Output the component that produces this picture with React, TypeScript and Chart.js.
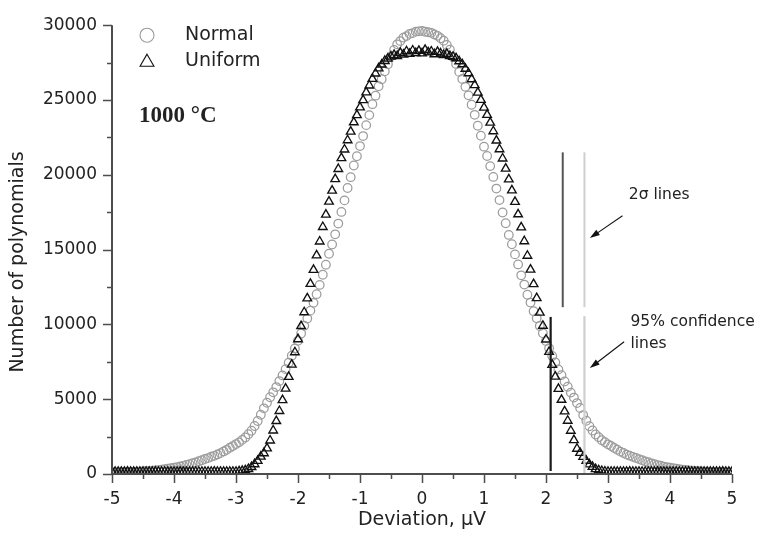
import React, { useEffect, useRef } from 'react';
import { Chart, registerables } from 'chart.js';

Chart.register(...registerables);

// x positions: X_START + i * X_STEP  (-5 ... 5)
const X_START = -5;
const X_STEP = 0.05;

const NORMAL = [
  100, 105, 110, 118, 120, 127, 130, 142, 150, 158,
  172, 184, 202, 218, 243, 262, 292, 318, 352, 383,
  425, 458, 505, 548, 605, 655, 725, 776, 855, 918,
  1005, 1065, 1155, 1215, 1310, 1395, 1510, 1615, 1760, 1865,
  2000, 2115, 2280, 2440, 2660, 2890, 3210, 3540, 3960, 4390,
  4760, 5130, 5460, 5810, 6210, 6590, 7010, 7440, 7910, 8390,
  8910, 9390, 9910, 10390, 10920, 11440, 12020, 12640, 13320, 13990,
  14720, 15340, 16020, 16740, 17520, 18290, 19120, 19840, 20620, 21240,
  21920, 22590, 23320, 23990, 24720, 25290, 25920, 26390, 26920, 27390,
  27920, 28340, 28720, 28940, 29170, 29270, 29420, 29470, 29570, 29590,
  29620, 29560, 29530, 29490, 29380, 29290, 29130, 28960, 28680, 28360,
  27880, 27410, 26880, 26410, 25880, 25310, 24680, 24010, 23280, 22610,
  21880, 21260, 20580, 19860, 19080, 18310, 17480, 16760, 15980, 15360,
  14680, 14010, 13280, 12660, 11980, 11460, 10880, 10410, 9890, 9410,
  8890, 8410, 7890, 7460, 6990, 6610, 6190, 5830, 5440, 5110,
  4740, 4410, 3940, 3560, 3190, 2910, 2640, 2460, 2260, 2125,
  1985, 1875, 1745, 1625, 1495, 1405, 1295, 1225, 1145, 1075,
  995, 925, 845, 785, 715, 665, 595, 555, 495, 462,
  415, 388, 348, 322, 288, 266, 238, 222, 198, 186,
  168, 161, 148, 141, 128, 126, 118, 116, 108, 106,
  100,
];

const UNIFORM = [
  150, 152, 148, 151, 149, 153, 150, 147, 152, 150,
  149, 151, 150, 148, 153, 150, 149, 152, 147, 151,
  150, 149, 153, 150, 148, 151, 150, 152, 149, 150,
  151, 148, 150, 153, 149, 150, 152, 148, 151, 150,
  152, 172, 205, 248, 335, 465, 655, 875, 1160, 1390,
  1710, 2240, 2910, 3540, 4210, 4940, 5710, 6490, 7310, 8140,
  9010, 9890, 10810, 11740, 12710, 13640, 14610, 15540, 16510, 17340,
  18210, 18940, 19710, 20390, 21110, 21690, 22310, 22890, 23510, 23990,
  24510, 24990, 25510, 25970, 26410, 26770, 27110, 27370, 27610, 27770,
  27910, 28020, 27930, 28150, 28040, 28260, 28090, 28310, 28140, 28280,
  28120, 28350, 28180, 28240, 28060, 28220, 28110, 28010, 28080, 27940,
  27890, 27790, 27590, 27390, 27090, 26790, 26390, 25990, 25490, 25010,
  24490, 24010, 23490, 22910, 22290, 21710, 21090, 20410, 19690, 18960,
  18190, 17360, 16490, 15560, 14590, 13660, 12690, 11760, 10790, 9910,
  8990, 8160, 7290, 6510, 5690, 4960, 4190, 3560, 2890, 2260,
  1690, 1410, 1140, 885, 645, 475, 325, 252, 202, 168,
  151, 149, 152, 148, 150, 151, 149, 153, 150, 148,
  150, 152, 149, 151, 150, 148, 153, 150, 149, 151,
  150, 148, 151, 152, 149, 150, 153, 149, 150, 151,
  148, 150, 152, 149, 151, 150, 148, 153, 150, 149,
  150,
];

const X_MIN = -5;
const X_MAX = 5;
const Y_MIN = 0;
const Y_MAX = 30000;

// 2-sigma lines (uniform, normal)
const SIGMA2_X = [2.27, 2.62];
const SIGMA2_Y = [11150, 21500];
// 95% confidence lines (uniform, normal)
const CONF95_X = [2.075, 2.62];
const CONF95_Y_TOP = [10500, 10550];
const CONF95_Y_BOTTOM = [200, 50];

// arrows [x0, y0, x1, y1] (tail -> head)
const ARROW_SIGMA = [3.234, 17266, 2.707, 15768];
const ARROW_CONF = [3.26, 8841, 2.707, 7079];

const LABEL_SIGMA = { text: '2σ lines', x: 3.336, y: 18671 };
const LABEL_CONF1 = { text: '95% confidence', x: 3.363, y: 10160 };
const LABEL_CONF2 = { text: 'lines', x: 3.363, y: 8663 };

const SERIES_NAMES = ['Normal', 'Uniform'];
const TEMP_LABEL = '1000 °C';
const X_TITLE = 'Deviation, μV';
const Y_TITLE = 'Number of polynomials';

const AXIS_COLOR = '#4d4d4d';
const TEXT_COLOR = '#222';

const toPoints = (arr: number[]) => arr.map((y, i) => ({ x: X_START + i * X_STEP, y }));

const decorPlugin = {
  id: 'decor',
  afterDatasetsDraw(chart: any) {
    const ctx = chart.ctx;
    const xs = chart.scales.x;
    const ys = chart.scales.y;
    const { left, right, top, bottom } = chart.chartArea;
    ctx.save();

    // axis lines
    ctx.strokeStyle = AXIS_COLOR;
    ctx.lineWidth = 2;
    ctx.beginPath();
    ctx.moveTo(left, top);
    ctx.lineTo(left, bottom);
    ctx.lineTo(right, bottom);
    ctx.stroke();

    // ticks
    ctx.lineWidth = 1.5;
    ctx.beginPath();
    for (let k = 0; k <= 20; k++) {
      const v = X_MIN + k * 0.5;
      const px = Math.round(xs.getPixelForValue(v)) + 0.5;
      const len = k % 2 === 0 ? 9 : 5;
      ctx.moveTo(px, bottom);
      ctx.lineTo(px, bottom + len);
    }
    for (let k = 0; k <= 12; k++) {
      const v = Y_MIN + k * 2500;
      const py = Math.round(ys.getPixelForValue(v)) + 0.5;
      const len = k % 2 === 0 ? 9 : 5;
      ctx.moveTo(left, py);
      ctx.lineTo(left - len, py);
    }
    ctx.stroke();

    // arrows
    const drawArrow = (a: number[]) => {
      const x0 = xs.getPixelForValue(a[0]);
      const y0 = ys.getPixelForValue(a[1]);
      const x1 = xs.getPixelForValue(a[2]);
      const y1 = ys.getPixelForValue(a[3]);
      const ang = Math.atan2(y1 - y0, x1 - x0);
      const hl = 10;
      const hw = 3.2;
      ctx.strokeStyle = '#111';
      ctx.fillStyle = '#111';
      ctx.lineWidth = 1.1;
      ctx.beginPath();
      ctx.moveTo(x0, y0);
      ctx.lineTo(x1 - Math.cos(ang) * hl * 0.8, y1 - Math.sin(ang) * hl * 0.8);
      ctx.stroke();
      const bx = x1 - Math.cos(ang) * hl;
      const by = y1 - Math.sin(ang) * hl;
      ctx.beginPath();
      ctx.moveTo(x1, y1);
      ctx.lineTo(bx + Math.sin(ang) * hw, by - Math.cos(ang) * hw);
      ctx.lineTo(bx - Math.sin(ang) * hw, by + Math.cos(ang) * hw);
      ctx.closePath();
      ctx.fill();
    };
    drawArrow(ARROW_SIGMA);
    drawArrow(ARROW_CONF);

    // annotation texts
    ctx.fillStyle = TEXT_COLOR;
    ctx.textBaseline = 'middle';
    ctx.textAlign = 'left';
    ctx.font = '15.5px "DejaVu Sans"';
    for (const l of [LABEL_SIGMA, LABEL_CONF1, LABEL_CONF2]) {
      ctx.fillText(l.text, xs.getPixelForValue(l.x), ys.getPixelForValue(l.y));
    }

    // legend
    const lx = left + 35;
    ctx.strokeStyle = '#9a9a9a';
    ctx.lineWidth = 1.1;
    ctx.beginPath();
    ctx.arc(lx, top + 10, 7, 0, Math.PI * 2);
    ctx.stroke();
    const ty = top + 37;
    const tr = 8;
    ctx.strokeStyle = '#111';
    ctx.beginPath();
    for (let k = 0; k < 3; k++) {
      const a = (k * 2 * Math.PI) / 3;
      const px = lx + Math.sin(a) * tr;
      const py = ty - Math.cos(a) * tr;
      if (k === 0) ctx.moveTo(px, py);
      else ctx.lineTo(px, py);
    }
    ctx.closePath();
    ctx.stroke();
    ctx.fillStyle = TEXT_COLOR;
    ctx.font = '19px "DejaVu Sans"';
    ctx.fillText(SERIES_NAMES[0], left + 73, top + 10);
    ctx.fillText(SERIES_NAMES[1], left + 73, top + 36);

    ctx.font = 'bold 23px "Liberation Serif"';
    ctx.fillText(TEMP_LABEL, left + 27, top + 91);

    // axis titles
    ctx.font = '19px "DejaVu Sans"';
    ctx.textAlign = 'center';
    ctx.fillText(X_TITLE, (left + right) / 2, 520);
    ctx.save();
    ctx.translate(18, 262);
    ctx.rotate(-Math.PI / 2);
    ctx.fillText(Y_TITLE, 0, 0);
    ctx.restore();

    ctx.restore();
  },
};

export default function App() {
  const ref = useRef<HTMLCanvasElement | null>(null);

  useEffect(() => {
    if (!ref.current) return;
    const lineDs = (x: number, y0: number, y1: number, color: string, w: number) => ({
      type: 'scatter' as const,
      data: [
        { x, y: y0 },
        { x, y: y1 },
      ],
      showLine: true,
      borderColor: color,
      borderWidth: w,
      pointRadius: 0,
      order: 0,
      clip: false as any,
    });
    const chart = new Chart(ref.current, {
      type: 'scatter',
      data: {
        datasets: [
          lineDs(SIGMA2_X[0], SIGMA2_Y[0], SIGMA2_Y[1], '#555555', 2),
          lineDs(SIGMA2_X[1], SIGMA2_Y[0], SIGMA2_Y[1], '#cfcfcf', 2),
          lineDs(CONF95_X[0], CONF95_Y_BOTTOM[0], CONF95_Y_TOP[0], '#1a1a1a', 2.2),
          lineDs(CONF95_X[1], CONF95_Y_BOTTOM[1], CONF95_Y_TOP[1], '#cfcfcf', 2.2),
          {
            label: 'Uniform',
            data: toPoints(UNIFORM),
            pointStyle: 'triangle',
            pointRadius: 5,
            borderColor: '#111111',
            borderWidth: 1.35,
            backgroundColor: 'rgba(0,0,0,0)',
            showLine: false,
            order: 2,
            clip: 0 as any,
          },
          {
            label: 'Normal',
            data: toPoints(NORMAL),
            pointStyle: 'circle',
            pointRadius: 4.3,
            borderColor: '#9c9c9c',
            borderWidth: 1.25,
            backgroundColor: 'rgba(0,0,0,0)',
            showLine: false,
            order: 3,
            clip: 0 as any,
          },
        ],
      },
      options: {
        responsive: false,
        animation: false,
        events: [],
        devicePixelRatio: 1,
        layout: { padding: { left: 0, top: 19, right: 31, bottom: 0 } },
        plugins: { legend: { display: false }, tooltip: { enabled: false } },
        scales: {
          x: {
            type: 'linear',
            min: X_MIN,
            max: X_MAX,
            grid: { display: false, drawTicks: false },
            border: { display: false },
            ticks: {
              stepSize: 1,
              padding: 15,
              color: TEXT_COLOR,
              font: { family: 'DejaVu Sans', size: 17 },
              callback: (v: any) => String(v),
            },
            afterFit: (s: any) => {
              s.height = 63;
            },
          },
          y: {
            type: 'linear',
            min: Y_MIN,
            max: Y_MAX,
            grid: { display: false, drawTicks: false },
            border: { display: false },
            ticks: {
              stepSize: 5000,
              padding: 15,
              color: TEXT_COLOR,
              font: { family: 'DejaVu Sans', size: 17 },
              callback: (v: any) => String(v),
            },
            afterFit: (s: any) => {
              s.width = 112;
            },
          },
        },
      },
      plugins: [decorPlugin],
    } as any);
    return () => chart.destroy();
  }, []);

  return (
    <div style={{ position: 'fixed', left: 0, top: 0, width: 763, height: 537, background: '#fff' }}>
      <canvas ref={ref} width={763} height={537} />
    </div>
  );
}
